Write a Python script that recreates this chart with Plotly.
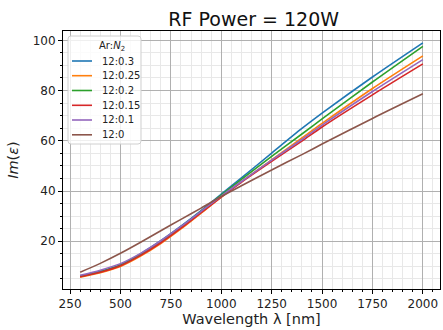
import plotly.graph_objects as go

wavelength = [300, 400, 500, 600, 700, 800, 900, 1000, 1100, 1250, 1400, 1500, 1750, 2000]

series_names = ["12:0.3", "12:0.25", "12:0.2", "12:0.15", "12:0.1", "12:0"]
im_eps_0_3 = [6.2, 8.1, 10.7, 15.0, 20.2, 26.0, 32.2, 38.8, 45.2, 55.1, 64.9, 71.0, 85.4, 99.0]
im_eps_0_25 = [5.7, 7.5, 10.0, 14.1, 19.1, 24.9, 31.2, 37.6, 43.7, 52.4, 61.1, 66.9, 80.8, 93.8]
im_eps_0_2 = [6.0, 7.9, 10.5, 14.8, 19.9, 25.7, 31.9, 38.4, 44.6, 53.8, 62.7, 68.7, 83.4, 97.6]
im_eps_0_15 = [5.9, 7.7, 10.3, 14.4, 19.4, 25.2, 31.4, 37.6, 43.5, 51.8, 59.9, 65.5, 78.3, 90.6]
im_eps_0_1 = [6.5, 8.5, 11.1, 15.2, 20.2, 25.9, 31.9, 38.0, 43.8, 52.3, 60.5, 66.2, 79.6, 92.3]
im_eps_0 = [7.7, 11.2, 15.2, 19.6, 24.2, 28.7, 33.2, 37.8, 42.1, 48.4, 54.5, 58.7, 68.9, 78.7]

legend_title = "Ar:<i>N</i><sub>2</sub>"
colors = ["#1f77b4", "#ff7f0e", "#2ca02c", "#d62728", "#9467bd", "#8c564b"]
all_series = [im_eps_0_3, im_eps_0_25, im_eps_0_2, im_eps_0_15, im_eps_0_1, im_eps_0]

FONT = "DejaVu Sans"
W, H = 443, 330
ML, MR, MT, MB = 63, 3, 31, 41
PW, PH = W - ML - MR, H - MT - MB


def px(xp):
    return (xp - ML) / PW


def py(yp):
    return (H - MB - yp) / PH


fig = go.Figure()
for name, vals, col in zip(series_names, all_series, colors):
    fig.add_trace(go.Scatter(
        x=wavelength, y=vals, mode="lines", name=name, showlegend=False,
        line=dict(color=col, width=1.6, shape="spline", smoothing=0.8),
    ))

axis_common = dict(
    showline=True, linecolor="black", linewidth=1, mirror=True,
    ticks="outside", ticklen=4, tickcolor="black", tickwidth=1,
    showgrid=True, gridcolor="#b0b0b0", gridwidth=1,
    zeroline=False, automargin=False,
    tickfont=dict(family=FONT, size=12, color="#222"),
)

fig.update_xaxes(
    range=[215, 2085], tick0=250, dtick=250,
    minor=dict(dtick=50, tick0=250, showgrid=True, gridcolor="#e8e8e8", gridwidth=0.6,
               ticks="outside", ticklen=2, tickcolor="black"),
    title=dict(text="Wavelength λ [nm]", font=dict(family=FONT, size=14.5, color="#222"), standoff=3),
    **axis_common,
)
fig.update_yaxes(
    range=[1.0, 103.7], tick0=0, dtick=20,
    minor=dict(dtick=5, tick0=0, showgrid=True, gridcolor="#e8e8e8", gridwidth=0.6,
               ticks="outside", ticklen=2, tickcolor="black"),
    title=dict(text="<i>Im</i>(<i>ε</i>)", font=dict(family=FONT, size=14.5, color="#222"), standoff=10),
    **axis_common,
)

# legend box drawn in paper coordinates (matplotlib-like legend)
shapes = []
annotations = []
bx0, bx1, by0, by1 = 68, 141, 36, 144
r = 3
path = (f"M {px(bx0 + r)} {py(by0)} L {px(bx1 - r)} {py(by0)} "
        f"Q {px(bx1)} {py(by0)} {px(bx1)} {py(by0 + r)} "
        f"L {px(bx1)} {py(by1 - r)} Q {px(bx1)} {py(by1)} {px(bx1 - r)} {py(by1)} "
        f"L {px(bx0 + r)} {py(by1)} Q {px(bx0)} {py(by1)} {px(bx0)} {py(by1 - r)} "
        f"L {px(bx0)} {py(by0 + r)} Q {px(bx0)} {py(by0)} {px(bx0 + r)} {py(by0)} Z")
shapes.append(dict(type="path", xref="paper", yref="paper", path=path,
                   fillcolor="rgba(255,255,255,0.8)", line=dict(color="#d0d0d0", width=1), layer="above"))
annotations.append(dict(text=legend_title, xref="paper", yref="paper", x=px(112), y=py(46),
                        xanchor="center", yanchor="middle", showarrow=False,
                        font=dict(family=FONT, size=10, color="#222")))
row_y = [61, 75.7, 90.5, 105.3, 120, 134.8]
for name, col, ry in zip(series_names, colors, row_y):
    shapes.append(dict(type="line", xref="paper", yref="paper", x0=px(72), x1=px(92),
                       y0=py(ry), y1=py(ry), line=dict(color=col, width=1.6), layer="above"))
    annotations.append(dict(text=name, xref="paper", yref="paper", x=px(100), y=py(ry),
                            xanchor="left", yanchor="middle", showarrow=False,
                            font=dict(family=FONT, size=10, color="#222")))

fig.update_layout(
    width=W, height=H,
    margin=dict(l=ML, r=MR, t=MT, b=MB),
    paper_bgcolor="white", plot_bgcolor="white",
    title=dict(text="RF Power = 120W", x=0.5727, xanchor="center", y=0.94, yanchor="middle",
               font=dict(family=FONT, size=19, color="#111")),
    font=dict(family=FONT, color="#222"),
    showlegend=False,
    shapes=shapes,
    annotations=annotations,
)

fig.write_html("out.html", config={"displayModeBar": False},
               post_script="document.body.style.margin='0px';")
